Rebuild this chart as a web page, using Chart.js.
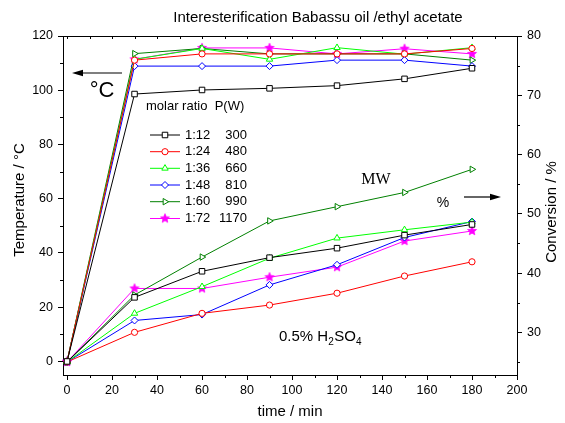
<!DOCTYPE html>
<html>
<head>
<meta charset="utf-8">
<script src="https://cdn.jsdelivr.net/npm/chart.js@4/dist/chart.umd.min.js"></script>
<style>
  html, body { margin: 0; padding: 0; background: #fff; overflow: hidden; }
  #wrap { width: 565px; height: 423px; position: relative; }
</style>
</head>
<body>
<div id="wrap"><canvas id="c" width="565" height="423"></canvas></div>
<script>
// Sampling times (min)
const times = [0, 30, 60, 90, 120, 150, 180];

// Legend text: molar ratio and microwave power (W)
const ratios = ['1:12', '1:24', '1:36', '1:48', '1:60', '1:72'];
const powers = ['300', '480', '660', '810', '990', '1170'];

// Temperature (°C) per run
const temp_1_12 = [0, 98.6, 100.1, 100.7, 101.7, 104.2, 108.1];
const temp_1_24 = [0, 111.1, 113.4, 113.4, 113.4, 113.4, 115.4];
const temp_1_36 = [0, 111.4, 115.4, 111.4, 115.7, 113.3, 115.7];
const temp_1_48 = [0, 108.9, 108.9, 108.9, 111.1, 111.1, 108.9];
const temp_1_60 = [0, 113.5, 115.4, 113.4, 113.4, 113.4, 111.1];
const temp_1_72 = [0, 111.4, 115.6, 115.6, 113.4, 115.3, 113.4];

// Conversion (%) per run
const conv_1_12 = [25, 35.9, 40.3, 42.6, 44.2, 46.4, 48.2];
const conv_1_24 = [25, 30.0, 33.2, 34.6, 36.6, 39.5, 41.9];
const conv_1_36 = [25, 33.2, 37.7, 42.5, 45.9, 47.3, 48.6];
const conv_1_48 = [25, 32.0, 33.0, 38.0, 41.4, 46.0, 48.7];
const conv_1_60 = [25, 36.3, 42.7, 48.8, 51.2, 53.6, 57.5];
const conv_1_72 = [25, 37.4, 37.4, 39.3, 41.0, 45.4, 47.1];

// Axis tick values
const xTicks = [0, 20, 40, 60, 80, 100, 120, 140, 160, 180, 200];
const xMinorTicks = [10, 30, 50, 70, 90, 110, 130, 150, 170, 190];
const tempTicks = [0, 20, 40, 60, 80, 100, 120];
const tempMinorTicks = [10, 30, 50, 70, 90, 110];
const convTicks = [30, 40, 50, 60, 70, 80];
const convMinorTicks = [25, 35, 45, 55, 65, 75];

const temps = [temp_1_12, temp_1_24, temp_1_36, temp_1_48, temp_1_60, temp_1_72];
const convs = [conv_1_12, conv_1_24, conv_1_36, conv_1_48, conv_1_60, conv_1_72];

const SANS = '"Liberation Sans", Arial, Helvetica, sans-serif';
const SERIF = '"Liberation Serif", "Times New Roman", serif';

// Filled five-point star used as the 1:72 marker
function makeStar(r, color) {
  const s = Math.ceil(r * 2 + 2);
  const c = document.createElement('canvas');
  c.width = s; c.height = s;
  const g = c.getContext('2d');
  const cx = s / 2, cy = s / 2, ri = r * 0.45;
  g.beginPath();
  for (let k = 0; k < 10; k++) {
    const rr = k % 2 === 0 ? r : ri;
    const a = -Math.PI / 2 + k * Math.PI / 5;
    const px = cx + rr * Math.cos(a), py = cy + rr * Math.sin(a);
    if (k === 0) g.moveTo(px, py); else g.lineTo(px, py);
  }
  g.closePath();
  g.fillStyle = color;
  g.fill();
  g.strokeStyle = color;
  g.lineWidth = 0.8;
  g.stroke();
  return c;
}

const colors = ['#000000', '#ff0000', '#00ff00', '#0000ff', '#008000', '#ff00ff'];
const markers = [
  { pointStyle: 'rect', radius: 3.9, rotation: 0 },
  { pointStyle: 'circle', radius: 3.1, rotation: 0 },
  { pointStyle: 'triangle', radius: 3.7, rotation: 0 },
  { pointStyle: 'rectRot', radius: 3.5, rotation: 0 },
  { pointStyle: 'triangle', radius: 3.7, rotation: 90 },
  { pointStyle: makeStar(4.7, '#ff00ff'), radius: 4.7, rotation: 0 }
];

const datasets = [];
function addSeries(values, axis) {
  values.forEach((vals, i) => {
    datasets.push({
      label: ratios[i] + ' ' + powers[i],
      data: times.map((t, j) => ({ x: t, y: vals[j] })),
      yAxisID: axis,
      borderColor: colors[i],
      backgroundColor: '#ffffff',
      pointBackgroundColor: '#ffffff',
      pointBorderColor: colors[i],
      borderWidth: 1,
      pointBorderWidth: 1,
      pointStyle: markers[i].pointStyle,
      pointRadius: markers[i].radius,
      pointRotation: markers[i].rotation,
      pointHoverRadius: markers[i].radius,
      tension: 0,
      fill: false,
      clip: false
    });
  });
}
addSeries(temps, 'y');
addSeries(convs, 'y1');

const tickFont = { family: SANS, size: 12.5 };
function fixedTicks(list) {
  return (scale) => { scale.ticks = list.map(v => ({ value: v })); };
}

// Extra drawing: frame, minor ticks, titles, notes and the in-plot legend
const decorations = {
  id: 'decorations',
  afterDraw(chart) {
    const ctx = chart.ctx;
    const a = chart.chartArea;
    const sx = chart.scales.x, sy = chart.scales.y, sy1 = chart.scales.y1;
    ctx.save();
    ctx.strokeStyle = '#000';
    ctx.lineWidth = 1;

    // top frame line
    ctx.beginPath();
    ctx.moveTo(a.left, Math.round(a.top) + 0.5);
    ctx.lineTo(a.right, Math.round(a.top) + 0.5);
    ctx.stroke();

    ctx.beginPath();
    // minor ticks on the bottom axis and inward ticks on the top frame
    xMinorTicks.forEach(v => {
      const px = Math.round(sx.getPixelForValue(v)) + 0.5;
      ctx.moveTo(px, a.bottom); ctx.lineTo(px, a.bottom + 3);
    });
    xTicks.concat(xMinorTicks).forEach(v => {
      const px = Math.round(sx.getPixelForValue(v)) + 0.5;
      ctx.moveTo(px, a.top); ctx.lineTo(px, a.top + 3);
    });
    // minor ticks on the temperature axis
    tempMinorTicks.forEach(v => {
      const py = Math.round(sy.getPixelForValue(v)) + 0.5;
      ctx.moveTo(a.left, py); ctx.lineTo(a.left - 3, py);
    });
    // minor ticks on the conversion axis
    convMinorTicks.forEach(v => {
      const py = Math.round(sy1.getPixelForValue(v)) + 0.5;
      ctx.moveTo(a.right, py); ctx.lineTo(a.right + 3, py);
    });
    ctx.stroke();

    ctx.fillStyle = '#000';
    ctx.textBaseline = 'middle';

    // chart title
    ctx.font = '15px ' + SANS;
    ctx.textAlign = 'center';
    ctx.fillText('Interesterification Babassu oil /ethyl acetate', 318, 18);

    // axis titles
    ctx.fillText('time / min', 290, 412);
    ctx.save();
    ctx.translate(20, 200);
    ctx.rotate(-Math.PI / 2);
    ctx.fillText('Temperature / \u00B0C', 0, 0);
    ctx.restore();
    ctx.save();
    ctx.translate(552, 212);
    ctx.rotate(-Math.PI / 2);
    ctx.fillText('Conversion / %', 0, 0);
    ctx.restore();

    // arrows pointing at the two y axes
    function arrow(x1, y, x2) {
      const dir = Math.sign(x2 - x1);
      ctx.beginPath();
      ctx.lineWidth = 1.2;
      ctx.moveTo(x1, y); ctx.lineTo(x2 - dir * 8, y);
      ctx.stroke();
      ctx.beginPath();
      ctx.moveTo(x2, y);
      ctx.lineTo(x2 - dir * 11, y - 3.2);
      ctx.lineTo(x2 - dir * 11, y + 3.2);
      ctx.closePath();
      ctx.fill();
    }
    arrow(122, 73, 72);
    arrow(464, 197, 501);

    ctx.font = '22px ' + SANS;
    ctx.fillText('\u00B0C', 102, 91);

    ctx.font = '14px ' + SANS;
    ctx.fillText('%', 443, 203);

    ctx.font = '16px ' + SERIF;
    ctx.fillText('MW', 376, 180);

    // 0.5% H2SO4 with subscripts
    ctx.textAlign = 'left';
    ctx.textBaseline = 'alphabetic';
    let tx = 279;
    const base = 341;
    const parts = [['0.5% H', 15, 0], ['2', 10, 4], ['SO', 15, 0], ['4', 10, 4]];
    parts.forEach(([t, size, dy]) => {
      ctx.font = size + 'px ' + SANS;
      ctx.fillText(t, tx, base + dy);
      tx += ctx.measureText(t).width + (dy ? 0.5 : 0);
    });

    // legend inside the plot
    ctx.textBaseline = 'middle';
    ctx.font = '13px ' + SANS;
    ctx.fillText('molar ratio  P(W)', 146, 106);
    const rowY = [135, 151.7, 168.3, 185, 201.7, 218.5];
    ratios.forEach((r, i) => {
      const y = rowY[i];
      ctx.strokeStyle = colors[i];
      ctx.lineWidth = 1;
      ctx.beginPath();
      ctx.moveTo(150, y); ctx.lineTo(180, y);
      ctx.stroke();
      ctx.fillStyle = '#fff';
      Chart.helpers.drawPoint(ctx, {
        pointStyle: markers[i].pointStyle,
        radius: markers[i].radius,
        rotation: markers[i].rotation,
        borderWidth: 1
      }, 165, y);
      ctx.fillStyle = '#000';
      ctx.textAlign = 'left';
      ctx.fillText(r, 185, y);
      ctx.textAlign = 'right';
      ctx.fillText(powers[i], 247, y);
    });
    ctx.restore();
  }
};

new Chart(document.getElementById('c'), {
  type: 'line',
  data: { datasets },
  options: {
    responsive: false,
    animation: false,
    events: [],
    layout: { padding: { top: 36, left: 0, right: 0, bottom: 0 } },
    plugins: { legend: { display: false }, tooltip: { enabled: false }, title: { display: false } },
    scales: {
      x: {
        type: 'linear',
        min: -1.8, max: 200,
        afterBuildTicks: fixedTicks(xTicks),
        afterFit: (s) => { s.height = 48; },
        ticks: { color: '#000', font: tickFont, padding: 3, maxRotation: 0, autoSkip: false },
        grid: { drawOnChartArea: false, tickLength: 5, tickColor: '#000', tickWidth: 1 },
        border: { color: '#000', width: 1 }
      },
      y: {
        type: 'linear',
        position: 'left',
        min: -5, max: 120,
        afterBuildTicks: fixedTicks(tempTicks),
        afterFit: (s) => { s.width = 63; },
        ticks: { color: '#000', font: tickFont, padding: 5, autoSkip: false },
        grid: { drawOnChartArea: false, tickLength: 5, tickColor: '#000', tickWidth: 1 },
        border: { color: '#000', width: 1 }
      },
      y1: {
        type: 'linear',
        position: 'right',
        min: 22.8, max: 80,
        afterBuildTicks: fixedTicks(convTicks),
        afterFit: (s) => { s.width = 48; },
        ticks: { color: '#000', font: tickFont, padding: 5, autoSkip: false },
        grid: { drawOnChartArea: false, tickLength: 5, tickColor: '#000', tickWidth: 1 },
        border: { color: '#000', width: 1 }
      }
    }
  },
  plugins: [decorations]
});
</script>
</body>
</html>
